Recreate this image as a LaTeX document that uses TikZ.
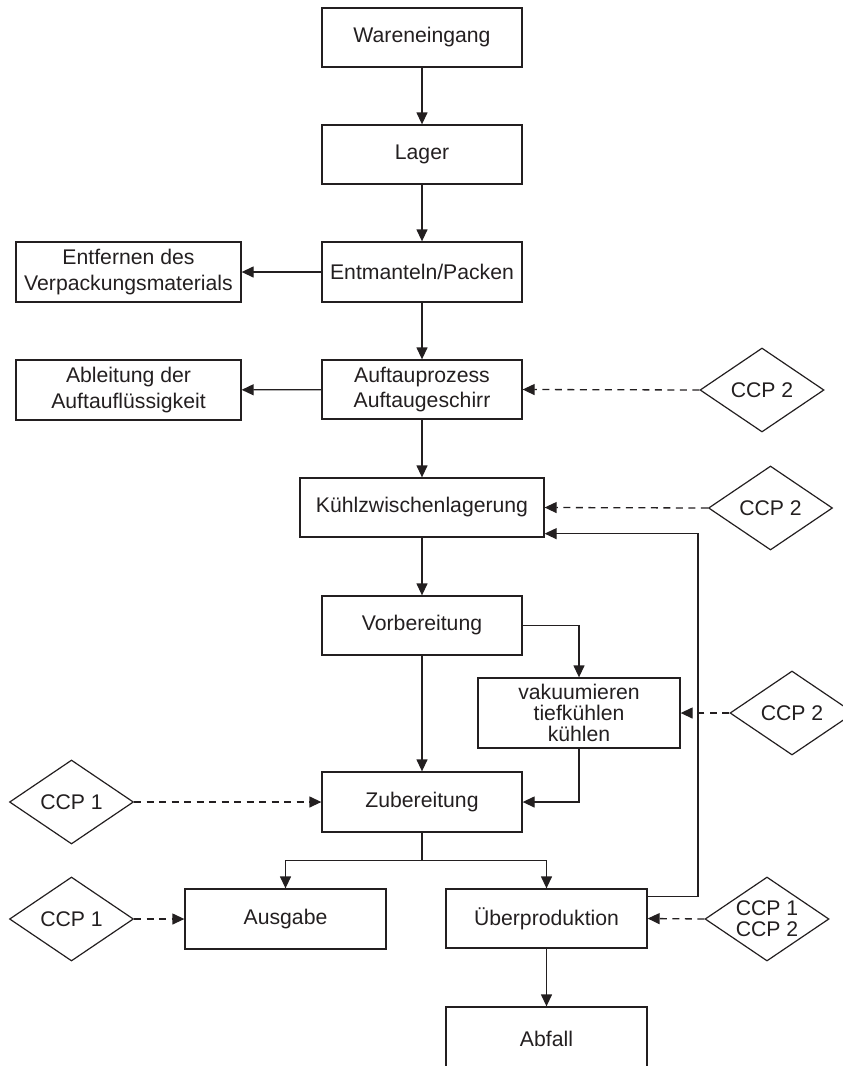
\documentclass[tikz,border=0pt]{standalone}
\usepackage{fontspec}
\setmainfont{Liberation Sans}
\usetikzlibrary{shapes.geometric,arrows.meta}
\definecolor{ink}{RGB}{35,31,32}
\begin{document}
\begin{tikzpicture}[x=1pt,y=-1pt,
  every node/.style={font={\fontsize{21.2}{25.5}\selectfont},text=ink},
  stepbox/.style={draw=ink,line width=1.3pt,rectangle,inner sep=0pt,
    minimum width=200pt,minimum height=59pt,align=center},
  ccp/.style={draw=ink,line width=1.2pt,diamond,inner sep=0pt,aspect=1.48,
    minimum width=124pt,minimum height=84pt,align=center},
  tight/.style={font={\fontsize{21.2}{21}\selectfont}},
  arr/.style={draw=ink,line width=1.3pt,-{Triangle[length=12pt,width=11pt]}},
  dasharr/.style={arr,dash pattern=on 7pt off 5.5pt},
  line/.style={draw=ink,line width=1.3pt}]
\useasboundingbox (0,0) rectangle (843,1066);

% main column
\node[stepbox] (ware) at (422,37.5) {Wareneingang};
\node[stepbox] (lager) at (422,154.5) {Lager};
\node[stepbox,minimum height=60pt] (entm) at (422,272) {Entmanteln/Packen};
\node[stepbox] (auft) at (422,389.5) {Auftauprozess\\Auftaugeschirr};
\node[stepbox,minimum width=244pt] (kuehl) at (422,507.5) {Kühlzwischenlagerung};
\node[stepbox] (vorb) at (422,625.5) {Vorbereitung};
\node[stepbox,tight,minimum width=202pt,minimum height=70pt] (vak) at (579,713) {vakuumieren\\tiefkühlen\\kühlen};
\node[stepbox,minimum height=60pt] (zub) at (422,802) {Zubereitung};
\node[stepbox,minimum width=201pt,minimum height=60pt] (ausg) at (285.5,919) {Ausgabe};
\node[stepbox,minimum width=201pt] (ueber) at (546.5,918.5) {Überproduktion};
\node[stepbox,minimum width=201pt,minimum height=64pt] (abfall) at (546.5,1039) {Abfall};

% side boxes
\node[stepbox,minimum width=225pt,minimum height=60pt] (entf) at (128.5,272) {Entfernen des\\Verpackungsmaterials};
\node[stepbox,minimum width=225pt,minimum height=60pt] (ableit) at (128.5,390) {Ableitung der\\Auftauflüssigkeit};

% control points
\node[ccp] (ccpA) at (762,390) {CCP 2};
\node[ccp] (ccpB) at (770.5,508) {CCP 2};
\node[ccp] (ccpC) at (792,713) {CCP 2};
\node[ccp] (ccp1a) at (71.5,802) {CCP 1};
\node[ccp] (ccp1b) at (71.5,919) {CCP 1};
\node[ccp,tight] (ccp12) at (767,919) {CCP 1\\CCP 2};

% flow
\draw[arr] (ware) -- (lager);
\draw[arr] (lager) -- (entm);
\draw[arr] (entm) -- (entf);
\draw[arr] (entm) -- (auft);
\draw[arr] (auft) -- (ableit);
\draw[arr] (auft) -- (kuehl);
\draw[arr] (kuehl) -- (vorb);
\draw[arr] (vorb.east) -| (vak.north);
\draw[arr] (vorb) -- (zub);
\draw[arr] (vak.south) |- (zub.east);

\coordinate (split) at ([yshift=-28pt]zub.south);
\draw[line] (zub.south) -- (split);
\draw[arr] (split) -| (ausg.north);
\draw[arr] (split) -| (ueber.north);
\draw[arr] (ueber) -- (abfall);

% return loop to intermediate cold storage
\coordinate (uebOut) at ([yshift=-8pt]ueber.north east);
\coordinate (kuehlIn) at ([yshift=4pt]kuehl.south east);
\coordinate (loopX) at (698,0);
\draw[arr] (uebOut) -- (uebOut -| loopX) -- (kuehlIn -| loopX) -- (kuehlIn);

% control point links
\draw[dasharr] (ccpA.west) -- (auft.east);
\draw[dasharr] (ccpB.west) -- (kuehl.east);
\draw[dasharr] (ccpC.west) -- (vak.east);
\draw[dasharr] (ccp1a.east) -- (zub.west);
\draw[dasharr] (ccp1b.east) -- (ausg.west);
\draw[dasharr] (ccp12.west) -- (ueber.east);
\end{tikzpicture}
\end{document}
